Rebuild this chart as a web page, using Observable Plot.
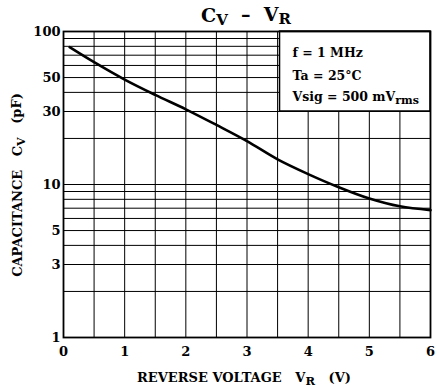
<!DOCTYPE html>
<html><head><meta charset="utf-8">
<script src="https://cdn.jsdelivr.net/npm/d3@7"></script>
<script src="https://cdn.jsdelivr.net/npm/@observablehq/plot@0.6"></script>
<style>
body{margin:0;background:#fff}
svg{font-family:"DejaVu Serif",serif;font-weight:bold}
</style></head><body><div id="chart"></div>
<script>
// Data
const reverseVoltage = [0.1, 0.5, 1, 1.5, 2, 2.5, 3, 3.5, 4, 4.5, 5, 5.5, 6];
const capacitance   = [79, 63, 48.5, 38.5, 31, 24.5, 19.2, 14.6, 11.7, 9.6, 8.1, 7.2, 6.8];
const xTicks = [0, 1, 2, 3, 4, 5, 6];
const yTicks = [1, 3, 5, 10, 30, 50, 100];
const xGrid = [0.5, 1, 1.5, 2, 2.5, 3, 3.5, 4, 4.5, 5, 5.5];
const yGrid = [2, 3, 4, 5, 6, 7, 8, 9, 10, 20, 30, 40, 50, 60, 70, 80, 90];
const legendLines = ["f = 1 MHz", "Ta = 25°C", "Vsig = 500 mV"];
const legendBox = {x1: 3.54, x2: 6, y1: 30, y2: 100};

const curve = reverseVoltage.map((v, i) => ({v, c: capacitance[i]}));

const plot = Plot.plot({
  width: 439, height: 389,
  marginLeft: 63, marginRight: 9, marginTop: 31, marginBottom: 52,
  style: {fontFamily: "DejaVu Serif", fontWeight: "bold", fontSize: "12px", color: "#000", background: "#fff"},
  x: {domain: [0, 6], ticks: xTicks, tickSize: 0, tickPadding: 9, label: null, tickFormat: d => d},
  y: {type: "log", domain: [1, 100], ticks: yTicks, tickSize: 0, tickPadding: 3, label: null, tickFormat: d => d},
  marks: [
    Plot.ruleX(xGrid, {stroke: "#000", strokeWidth: 1}),
    Plot.ruleY(yGrid, {stroke: "#000", strokeWidth: 1}),
    Plot.rect([legendBox], {x1: "x1", x2: "x2", y1: "y1", y2: "y2", fill: "#fff", stroke: "#000", strokeWidth: 1.5}),
    Plot.line(curve, {x: "v", y: "c", stroke: "#000", strokeWidth: 2.6, curve: "catmull-rom"}),
    Plot.frame({stroke: "#000", strokeWidth: 1.8}),
    Plot.axisX({ticks: xTicks, tickSize: 0, tickPadding: 9, tickFormat: d => d, fontSize: 13}),
    Plot.axisY({ticks: yTicks, tickSize: 0, tickPadding: 3, tickFormat: d => d, fontSize: 13})
  ]
});
document.getElementById("chart").appendChild(plot);

const svg = d3.select(plot);
const xs = plot.scale("x"), ys = plot.scale("y");
// Title
const title = svg.append("text").attr("x", 246).attr("y", 22).attr("text-anchor", "middle")
  .attr("font-size", 19).attr("fill", "#000").attr("xml:space", "preserve");
title.append("tspan").text("C");
title.append("tspan").attr("dy", "0.2em").attr("font-size", 15).text("V");
title.append("tspan").attr("dy", "-0.2em").text("  \u2013  V");
title.append("tspan").attr("dy", "0.2em").attr("font-size", 15).text("R");

// X label
const xl = svg.append("text").attr("x", 244).attr("y", 382).attr("text-anchor", "middle")
  .attr("font-size", 13).attr("fill", "#000").attr("xml:space", "preserve");
xl.append("tspan").text("REVERSE VOLTAGE   V");
xl.append("tspan").attr("dy", "0.3em").attr("font-size", 11.5).text("R");
xl.append("tspan").attr("dy", "-0.3em").text("   (V)");

// Y label
const yl = svg.append("text").attr("transform", "translate(22,185) rotate(-90)").attr("text-anchor", "middle")
  .attr("font-size", 13).attr("fill", "#000").attr("xml:space", "preserve");
yl.append("tspan").text("CAPACITANCE   C");
yl.append("tspan").attr("dy", "0.3em").attr("font-size", 11).text("V");
yl.append("tspan").attr("dy", "-0.3em").text("   (pF)");

// Legend text
const lx = xs.apply(legendBox.x1) + 13;
[57, 80, 101].forEach((y, i) => {
  const t = svg.append("text").attr("x", lx).attr("y", y).attr("text-anchor", "start")
    .attr("font-size", 12.5).attr("fill", "#000");
  t.append("tspan").text(legendLines[i]);
  if (i === 2) t.append("tspan").attr("dy", "0.3em").attr("font-size", 11).text("rms");
});
</script></body></html>
